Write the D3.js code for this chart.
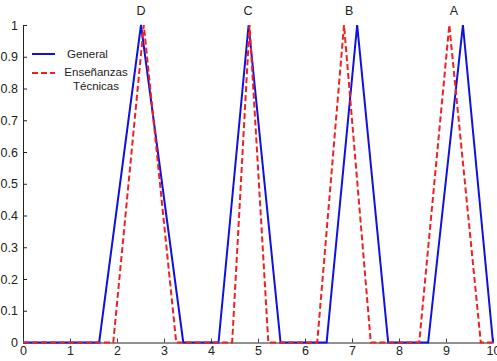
<!DOCTYPE html>
<html>
<head>
<meta charset="utf-8">
<script src="https://cdn.jsdelivr.net/npm/d3@7"></script>
<style>
  body { margin: 0; background: #fff; }
  text { font-family: "Liberation Sans", Arial, sans-serif; fill: #222; }
</style>
</head>
<body>
<div id="chart"></div>
<script>
// series: x positions and membership values
const xGeneral = [0, 1.62, 2.51, 3.41, 4.16, 4.8, 5.48, 6.46, 7.11, 7.77, 8.62, 9.36, 10];
const yGeneral = [0, 0, 1, 0, 0, 1, 0, 0, 1, 0, 0, 1, 0];
const xTecnicas = [0, 1.92, 2.57, 3.26, 4.45, 4.82, 5.22, 6.26, 6.83, 7.40, 8.43, 9.07, 9.74, 10];
const yTecnicas = [0, 0, 1, 0, 0, 1, 0, 0, 1, 0, 0, 1, 0, 0];

const peakLabels = ['D', 'C', 'B', 'A'];
const peakLabelX = [2.51, 4.79, 6.94, 9.17];
const peakLabelY = 1.03;

const xTicks = [0, 1, 2, 3, 4, 5, 6, 7, 8, 9, 10];
const yTicks = [0, 0.1, 0.2, 0.3, 0.4, 0.5, 0.6, 0.7, 0.8, 0.9, 1];
const legendNames = ['General', 'Enseñanzas|Técnicas'];

const W = 497, H = 361;
const margin = { top: 25, right: 4, bottom: 18.5, left: 23 };
const width = W - margin.left - margin.right;
const height = H - margin.top - margin.bottom;

const svg = d3.select('#chart').append('svg')
  .attr('width', W).attr('height', H)
  .append('g')
  .attr('transform', 'translate(' + margin.left + ',' + margin.top + ')');

const x = d3.scaleLinear().domain([0, 10]).range([0, width]);
const y = d3.scaleLinear().domain([0, 1]).range([height, 0]);

// axes, ticks pointing inward
const yAxis = svg.append('g')
  .call(d3.axisLeft(y).tickValues(yTicks).tickSizeInner(-4).tickSizeOuter(0)
    .tickFormat(d => d3.format('~g')(d)).tickPadding(5));
yAxis.selectAll('text').attr('font-size', 12.5);
yAxis.select('.domain').attr('stroke', '#222');
yAxis.selectAll('line').attr('stroke', '#222');

const xAxis = svg.append('g')
  .attr('transform', 'translate(0,' + height + ')')
  .call(d3.axisBottom(x).tickValues(xTicks).tickSizeInner(-4).tickSizeOuter(0).tickPadding(6));
xAxis.selectAll('text').attr('font-size', 12.5).attr('dy', '0.55em');
xAxis.select('.domain').attr('stroke', '#222');
xAxis.selectAll('line').attr('stroke', '#444');

const line = d3.line().x(d => x(d[0])).y(d => y(d[1]));

svg.append('path')
  .datum(d3.zip(xGeneral, yGeneral))
  .attr('fill', 'none')
  .attr('stroke', '#1010e0')
  .attr('stroke-width', 2)
  .attr('d', line);

svg.append('path')
  .datum(d3.zip(xTecnicas, yTecnicas))
  .attr('fill', 'none')
  .attr('stroke', '#f02020')
  .attr('stroke-width', 2)
  .attr('stroke-dasharray', '6,3')
  .attr('d', line);

// peak labels
svg.selectAll('.peak')
  .data(peakLabels)
  .enter().append('text')
  .attr('class', 'peak')
  .attr('x', (d, i) => x(peakLabelX[i]))
  .attr('y', y(peakLabelY))
  .attr('text-anchor', 'middle')
  .attr('font-size', 12.5)
  .text(d => d);

// legend
const legend = svg.append('g').attr('transform', 'translate(9,29)');
legend.append('line')
  .attr('x1', 0).attr('x2', 23).attr('y1', 0).attr('y2', 0)
  .attr('stroke', '#1010e0').attr('stroke-width', 2);
legend.append('text')
  .attr('x', 35).attr('y', 4).attr('font-size', 11.5)
  .text(legendNames[0]);
legend.append('line')
  .attr('x1', 0).attr('x2', 23).attr('y1', 19).attr('y2', 19)
  .attr('stroke', '#f02020').attr('stroke-width', 2)
  .attr('stroke-dasharray', '6,3');
legendNames[1].split('|').forEach((t, i) => {
  legend.append('text')
    .attr('x', 64).attr('y', 22 + i * 14).attr('font-size', 11.5)
    .attr('text-anchor', 'middle')
    .text(t);
});
</script>
</body>
</html>
